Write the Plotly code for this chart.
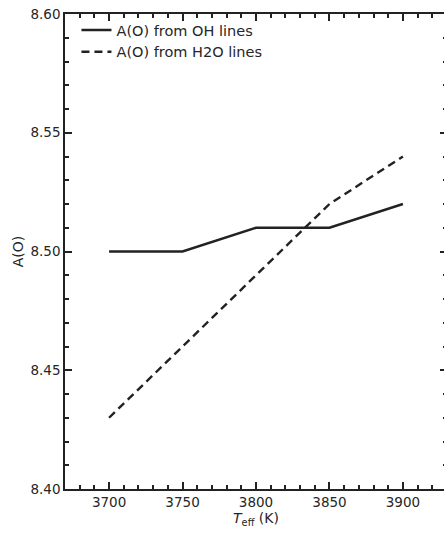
import plotly.graph_objects as go

teff = [3700, 3750, 3800, 3850, 3900]
ao_oh = [8.50, 8.50, 8.51, 8.51, 8.52]
ao_h2o = [8.43, 8.46, 8.49, 8.52, 8.54]

x_range = [3670, 3930]
y_range = [8.40, 8.60]

line_col = "#222222"
axis_col = "#222222"
font = dict(family="DejaVu Sans", size=13.5, color="#262626")

fig = go.Figure()
fig.add_trace(go.Scatter(x=teff, y=ao_oh, mode="lines", name="A(O) from OH lines",
                         line=dict(color=line_col, width=2.4)))
fig.add_trace(go.Scatter(x=teff, y=ao_h2o, mode="lines", name="A(O) from H2O lines",
                         line=dict(color=line_col, width=2.4, dash="8px,5px")))

W = 460
fig.update_layout(
    width=W, height=533,
    margin=dict(l=65, r=W - 447, t=14, b=44, autoexpand=False),
    paper_bgcolor="white", plot_bgcolor="white",
    font=font,
    showlegend=True,
    legend=dict(x=0.03, y=1.0, xanchor="left", yanchor="top", bgcolor="rgba(0,0,0,0)",
                font=dict(family="DejaVu Sans", size=14.5, color="#262626"),
                tracegroupgap=0, itemwidth=30),
    xaxis=dict(
        range=x_range, tickmode="array", tickvals=teff, ticktext=[str(t) for t in teff],
        ticks="inside", ticklen=7, tickwidth=2, tickcolor=axis_col,
        minor=dict(dtick=10, tick0=3700, ticks="inside", ticklen=4, tickwidth=1.6, tickcolor=axis_col),
        showline=True, linecolor=axis_col, linewidth=1.5, mirror="allticks",
        showgrid=False, zeroline=False,
        title=dict(text="<i>T</i><sub>eff</sub> (K)", standoff=2, font=dict(size=14)),
    ),
    yaxis=dict(
        range=y_range, dtick=0.05, tick0=8.40, tickformat=".2f",
        ticks="inside", ticklen=7, tickwidth=2, tickcolor=axis_col,
        minor=dict(dtick=0.01, tick0=8.40, ticks="inside", ticklen=4, tickwidth=1.6, tickcolor=axis_col),
        showline=True, linecolor=axis_col, linewidth=1.5, mirror="allticks",
        showgrid=False, zeroline=False,
        title=dict(text="A(O)", standoff=4, font=dict(size=14)),
    ),
)

fig.write_html("out.html", post_script="document.body.style.overflow='hidden';document.body.style.margin='0';")
